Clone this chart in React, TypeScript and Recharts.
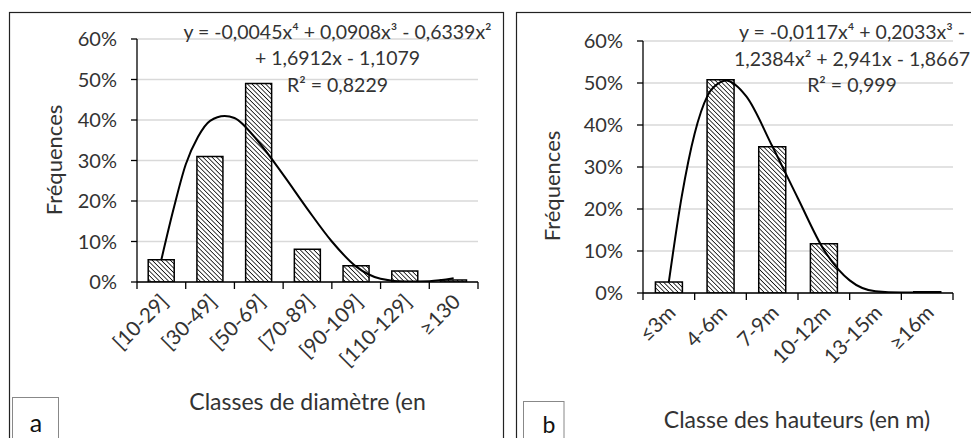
import React from 'react';
import { ComposedChart, Bar, Line, XAxis, YAxis, CartesianGrid } from 'recharts';

// ---------- Data ----------
const diamCategories = ['[10-29]', '[30-49]', '[50-69]', '[70-89]', '[90-109]', '[110-129]', '≥130'];
const diamFreq = [5.5, 31, 49, 8.1, 4, 2.7, 0.5];
const diamTrendX = [1, 1.25, 1.5, 1.75, 2, 2.3, 2.5, 3, 3.5, 4, 4.5, 5, 5.5, 6, 6.5, 7];
const diamTrendY = [5.5, 18, 29, 35.8, 39.8, 41, 40.5, 34.5, 26.5, 18, 10, 3.8, 0.8, 0.1, 0.2, 0.9];

const heightCategories = ['≤3m', '4-6m', '7-9m', '10-12m', '13-15m', '≥16m'];
const heightFreq = [2.6, 50.8, 34.8, 11.7, 0, 0.3];
const heightTrendX = [1, 1.25, 1.5, 1.75, 2, 2.1, 2.5, 3, 3.5, 4, 4.5, 5, 5.5, 6];
const heightTrendY = [2.6, 23, 38, 47, 50.2, 50.6, 46.8, 35, 22.5, 10.3, 3, 0.4, 0.1, 0.2];

const yTicks = [0, 10, 20, 30, 40, 50, 60];

const eqA = ['y = -0,0045x⁴ + 0,0908x³ - 0,6339x²', '+ 1,6912x - 1,1079', 'R² = 0,8229'];
const eqB = ['y = -0,0117x⁴ + 0,2033x³ -', '1,2384x² + 2,941x - 1,8667', 'R² = 0,999'];

const FONT = 'Lato, "Open Sans", sans-serif';
const TXT = '#333';

const diamData = diamCategories.map((c, i) => ({ cat: c, freq: diamFreq[i] }));
const diamTrend = diamTrendX.map((x, i) => ({ x, y: diamTrendY[i] }));
const heightData = heightCategories.map((c, i) => ({ cat: c, freq: heightFreq[i] }));
const heightTrend = heightTrendX.map((x, i) => ({ x, y: heightTrendY[i] }));

function makeXTick(band: number, count: number, dx: number, dy: number) {
  return (props: any) => {
    const { x, y, payload, index } = props;
    const left = x - band / 2;
    const ax = x + dx;
    const ay = y + dy;
    return (
      <g>
        <line x1={left} y1={y} x2={left} y2={y + 7} stroke="#000" strokeWidth={1.3} />
        {index === count - 1 ? (
          <line x1={x + band / 2} y1={y} x2={x + band / 2} y2={y + 7} stroke="#000" strokeWidth={1.3} />
        ) : null}
        <text
          x={ax}
          y={ay}
          textAnchor="end"
          transform={`rotate(-45 ${ax} ${ay})`}
          fontFamily={FONT}
          fontSize={20.5}
          fill={TXT}
        >
          {payload.value}
        </text>
      </g>
    );
  };
}

interface PanelProps {
  id: string;
  data: any[];
  trend: any[];
  n: number;
  width: number;
  height: number;
  margin: { top: number; right: number; bottom: number; left: number };
  yWidth: number;
  xHeight: number;
  gap: string;
}

function Panel(p: PanelProps) {
  const plotW = p.width - p.margin.left - p.margin.right - p.yWidth;
  const band = plotW / p.n;
  return (
    <ComposedChart width={p.width} height={p.height} data={p.data} margin={p.margin} barCategoryGap={p.gap}>
      <defs>
        <pattern id={p.id} width="3.2" height="3.2" patternUnits="userSpaceOnUse" patternTransform="rotate(-45)">
          <rect x="0" y="0" width="3.2" height="3.2" fill="#fff" />
          <line x1="0" y1="0" x2="0" y2="3.2" stroke="#000" strokeWidth="1.5" />
        </pattern>
      </defs>
      <CartesianGrid vertical={false} stroke="#d9d9d9" strokeWidth={1.3} />
      <XAxis
        xAxisId="cat"
        dataKey="cat"
        type="category"
        height={p.xHeight}
        axisLine={{ stroke: '#000', strokeWidth: 1.3 }}
        tickLine={false}
        tickSize={0}
        tickMargin={0}
        interval={0}
        tick={makeXTick(band, p.n, 8, 21)}
      />
      <XAxis xAxisId="num" type="number" dataKey="x" domain={[0.5, p.n + 0.5]} hide allowDataOverflow />
      <YAxis
        width={p.yWidth}
        domain={[0, 60]}
        ticks={yTicks}
        interval={0}
        tickFormatter={(v: number) => `${v}%`}
        axisLine={{ stroke: '#000', strokeWidth: 1.3 }}
        tickLine={{ stroke: '#000', strokeWidth: 1.3 }}
        tickSize={6}
        tickMargin={14}
        tick={{ fill: TXT, fontSize: 20, fontFamily: FONT }}
        allowDataOverflow
      />
      <Bar
        xAxisId="cat"
        dataKey="freq"
        fill={`url(#${p.id})`}
        stroke="#000"
        strokeWidth={1.5}
        isAnimationActive={false}
      />
      <Line
        xAxisId="num"
        data={p.trend}
        dataKey="y"
        type="monotone"
        stroke="#000"
        strokeWidth={2}
        dot={false}
        activeDot={false}
        isAnimationActive={false}
      />
    </ComposedChart>
  );
}

export default function App() {
  return (
    <div
      style={{
        position: 'absolute',
        left: 0,
        top: 0,
        width: 971,
        height: 438,
        overflow: 'hidden',
        background: '#fff',
      }}
    >
      <div style={{ position: 'absolute', left: 0, top: 0 }}>
        <Panel
          id="hatchA"
          data={diamData}
          trend={diamTrend}
          n={7}
          width={503}
          height={438}
          margin={{ top: 39, right: 25, bottom: 0, left: 0 }}
          yWidth={137}
          xHeight={156}
          gap="23%"
        />
      </div>
      <div style={{ position: 'absolute', left: 503, top: 0 }}>
        <Panel
          id="hatchB"
          data={heightData}
          trend={heightTrend}
          n={6}
          width={468}
          height={438}
          margin={{ top: 41, right: 18, bottom: 0, left: 0 }}
          yWidth={140}
          xHeight={145}
          gap="24%"
        />
      </div>
      <svg
        width={971}
        height={438}
        style={{ position: 'absolute', left: 0, top: 0, pointerEvents: 'none' }}
      >
        {/* panel frames */}
        <rect x={9.5} y={12.5} width={494} height={440} fill="none" stroke="#222" strokeWidth={1.2} />
        <rect x={516.5} y={12.5} width={470} height={440} fill="none" stroke="#222" strokeWidth={1.2} />
        {/* letter boxes */}
        <rect x={12.5} y={397.5} width={46} height={50} fill="#fff" stroke="#888" strokeWidth={1} />
        <text x={36} y={432} textAnchor="middle" fontFamily={FONT} fontSize={25} fill="#111">a</text>
        <rect x={523.5} y={401.5} width={40.5} height={50} fill="#fff" stroke="#888" strokeWidth={1} />
        <text x={549} y={433} textAnchor="middle" fontFamily={FONT} fontSize={23} fill="#111">b</text>
        {/* axis titles */}
        <text x={307.5} y={410} textAnchor="middle" fontFamily={FONT} fontSize={23} fill={TXT}>
          Classes de diamètre (en
        </text>
        <text x={797} y={428} textAnchor="middle" fontFamily={FONT} fontSize={23} fill={TXT}>
          Classe des hauteurs (en m)
        </text>
        <text
          x={62}
          y={160}
          textAnchor="middle"
          transform="rotate(-90 62 160)"
          fontFamily={FONT}
          fontSize={22}
          fill={TXT}
        >
          Fréquences
        </text>
        <text
          x={560}
          y={186}
          textAnchor="middle"
          transform="rotate(-90 560 186)"
          fontFamily={FONT}
          fontSize={22}
          fill={TXT}
        >
          Fréquences
        </text>
        {/* trendline equations */}
        {eqA.map((t, i) => (
          <text key={'a' + i} x={337.5} y={38.5 + i * 26.8} textAnchor="middle" fontFamily={FONT} fontSize={19.5} fill={TXT}>
            {t}
          </text>
        ))}
        {eqB.map((t, i) => (
          <text key={'b' + i} x={852} y={39 + i * 26.5} textAnchor="middle" fontFamily={FONT} fontSize={19.5} fill={TXT}>
            {t}
          </text>
        ))}
      </svg>
    </div>
  );
}
